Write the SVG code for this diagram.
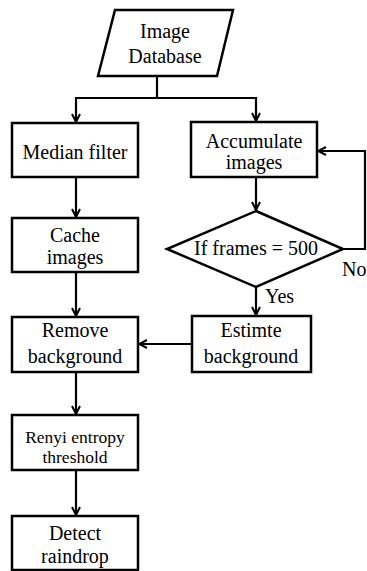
<svg xmlns="http://www.w3.org/2000/svg" width="367" height="571" viewBox="0 0 367 571">
<defs>
<style>
.n{fill:#fff;stroke:#000;stroke-width:2.5}
.t{font-family:"Liberation Serif","Times New Roman",serif;font-size:20px;fill:#000;text-anchor:middle}
.s{font-size:17.5px}
.l{text-anchor:start}
.c{fill:none;stroke:#000;stroke-width:2.2}
</style>
<marker id="a" viewBox="0 0 10 10" refX="9" refY="5" markerWidth="10" markerHeight="10" markerUnits="userSpaceOnUse" orient="auto">
<path d="M1,1 L9,5 L1,9" fill="none" stroke="#000" stroke-width="2"/>
</marker>
</defs>
<rect width="367" height="571" fill="#fff"/>
<g id="connectors">
<path class="c" d="M157,76 V98 H76 V122" marker-end="url(#a)"/>
<path class="c" d="M157,98 H256 V121" marker-end="url(#a)"/>
<path class="c" d="M76,177 V217" marker-end="url(#a)"/>
<path class="c" d="M256,177 V210" marker-end="url(#a)"/>
<path class="c" d="M343,249 H365 V151 H318" marker-end="url(#a)"/>
<path class="c" d="M256,287 V315" marker-end="url(#a)"/>
<path class="c" d="M76,272 V316" marker-end="url(#a)"/>
<path class="c" d="M192,344 H139" marker-end="url(#a)"/>
<path class="c" d="M76,372 V414" marker-end="url(#a)"/>
<path class="c" d="M76,470 V515" marker-end="url(#a)"/>
<text class="t l" x="265" y="303">Yes</text>
<text class="t l" x="342" y="276">No</text>
</g>
<g id="db">
<polygon class="n" points="115,10 233,10 217,76 98,76"/>
<text class="t" x="165" y="38">Image</text>
<text class="t" x="165" y="63">Database</text>
</g>
<g id="median">
<rect class="n" x="12" y="123" width="126" height="54"/>
<text class="t" x="75" y="159">Median filter</text>
</g>
<g id="accumulate">
<rect class="n" x="191" y="122" width="126" height="55"/>
<text class="t" x="254" y="148">Accumulate</text>
<text class="t" x="254" y="169">images</text>
</g>
<g id="cache">
<rect class="n" x="12" y="218" width="126" height="54"/>
<text class="t" x="75" y="242">Cache</text>
<text class="t" x="75" y="264">images</text>
</g>
<g id="decision">
<polygon class="n" points="256,211 343,249 256,287 167,249"/>
<text class="t" x="256" y="255">If frames = 500</text>
</g>
<g id="estimate">
<rect class="n" x="192" y="316" width="119" height="56"/>
<text class="t" x="251" y="337">Estimte</text>
<text class="t" x="251" y="363">background</text>
</g>
<g id="remove">
<rect class="n" x="12" y="317" width="126" height="55"/>
<text class="t" x="75" y="337">Remove</text>
<text class="t" x="75" y="363">background</text>
</g>
<g id="renyi">
<rect class="n" x="12" y="415" width="126" height="55"/>
<text class="t s" x="75" y="443">Renyi entropy</text>
<text class="t s" x="75" y="463">threshold</text>
</g>
<g id="detect">
<rect class="n" x="12" y="516" width="126" height="54"/>
<text class="t" x="75" y="540">Detect</text>
<text class="t" x="75" y="563">raindrop</text>
</g>
</svg>
